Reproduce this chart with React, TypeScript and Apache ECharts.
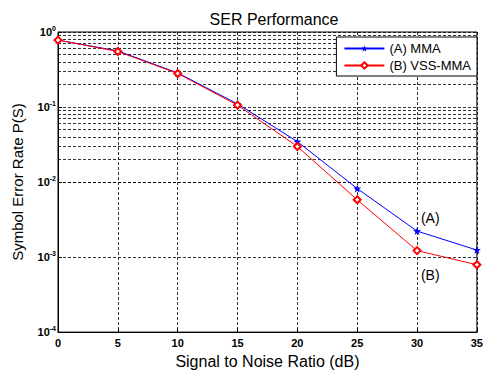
import React, { useEffect, useRef } from "react";
import * as echarts from "echarts";

const snr = [0, 5, 10, 15, 20, 25, 30, 35];
const serMMA = [0.78, 0.56, 0.285, 0.11, 0.0346, 0.0082, 0.00222, 0.00124];
const serVSS = [0.78, 0.55, 0.28, 0.106, 0.0298, 0.0058, 0.00122, 0.00079];
const xTicks = [0, 5, 10, 15, 20, 25, 30, 35];
const yDecades = [1e-4, 1e-3, 1e-2, 1e-1, 1];
const minorMultipliers = [2, 3, 4, 5, 6, 7, 8, 9];
const annotations = [
  { name: "(A)", x: 31.1, y: 0.0033 },
  { name: "(B)", x: 31.1, y: 0.00058 },
];

const STAR =
  "path://M0,-10 L2.35,-3.24 L9.51,-3.09 L3.8,1.24 L5.88,8.09 L0,4 L-5.88,8.09 L-3.8,1.24 L-9.51,-3.09 L-2.35,-3.24 Z";

export default function App() {
  const ref = useRef<HTMLDivElement>(null);
  useEffect(() => {
    if (!ref.current) return;
    const chart = echarts.init(ref.current, null, { renderer: "svg" });
    const minorValues: number[] = [];
    yDecades.slice(0, -1).forEach((d) => minorMultipliers.forEach((m) => minorValues.push(d * m)));
    const font = "Liberation Sans";
    chart.setOption({
      animation: false,
      backgroundColor: "#fff",
      title: {
        text: "SER Performance",
        left: 269,
        textAlign: "center",
        top: 6,
        textStyle: { fontFamily: font, fontSize: 16, fontWeight: "normal", color: "#000" },
      },
      grid: {
        left: 58,
        right: 5,
        top: 32,
        bottom: 36,
        show: true,
        borderColor: "#000",
        borderWidth: 1,
        backgroundColor: "transparent",
      },
      legend: {
        orient: "vertical",
        right: 9,
        top: 37,
        backgroundColor: "#fff",
        borderColor: "#000",
        borderWidth: 1,
        borderRadius: 0,
        padding: [5, 6, 4, 7],
        itemWidth: 40,
        itemHeight: 8,
        itemGap: 4,
        textStyle: { fontFamily: font, fontSize: 13, color: "#000" },
        data: ["(A) MMA", "(B) VSS-MMA"],
      },
      xAxis: {
        type: "value",
        min: 0,
        max: 35,
        interval: 5,
        name: "Signal to Noise Ratio (dB)",
        nameLocation: "middle",
        nameGap: 18,
        nameTextStyle: { fontFamily: font, fontSize: 16, color: "#000" },
        axisLine: { lineStyle: { color: "#000" } },
        axisTick: { inside: true, length: 4, lineStyle: { color: "#000" } },
        axisLabel: {
          fontFamily: font,
          fontSize: 11,
          fontWeight: "bold",
          color: "#000",
          margin: 5,
          customValues: xTicks,
        },
        splitLine: { show: true, lineStyle: { color: "#000", type: [3, 2], width: 0.8 } },
      },
      yAxis: {
        type: "log",
        logBase: 10,
        min: 1e-4,
        max: 1,
        name: "Symbol Error Rate P(S)",
        nameLocation: "middle",
        nameGap: 33,
        nameTextStyle: { fontFamily: font, fontSize: 15, color: "#000" },
        axisLine: { show: true, lineStyle: { color: "#000" } },
        axisTick: { inside: true, length: 4, lineStyle: { color: "#000" } },
        axisLabel: {
          margin: 2,
          formatter: (v: number) => `{b|10}{s|${Math.round(Math.log10(v))}}`,
          rich: {
            b: { fontFamily: font, fontSize: 11, fontWeight: "bold", color: "#000" },
            s: {
              fontFamily: font,
              fontSize: 7,
              fontWeight: "bold",
              color: "#000",
              verticalAlign: "top",
              padding: [0, 0, 8, 0],
            },
          },
        },
        splitLine: { show: true, lineStyle: { color: "#000", type: [3, 2], width: 0.8 } },
      },
      series: [
        {
          name: "(A) MMA",
          type: "line",
          data: snr.map((x, i) => [x, serMMA[i]]),
          symbol: STAR,
          symbolSize: 8,
          itemStyle: { color: "#0000ff", borderWidth: 0 },
          lineStyle: { color: "#0000ff", width: 1 },
          z: 3,
          markLine: {
            silent: true,
            symbol: ["none", "none"],
            label: { show: false },
            lineStyle: { color: "#000", type: [3, 2], width: 0.8 },
            data: minorValues.map((v) => ({ yAxis: v })),
            z: 1,
          },
          markPoint: {
            symbol: "circle",
            symbolSize: 0,
            label: {
              show: true,
              formatter: (p: any) => p.name,
              fontFamily: font,
              fontSize: 14,
              color: "#000",
              position: "inside",
            },
            data: annotations.map((a) => ({ name: a.name, coord: [a.x, a.y] })),
          },
        },
        {
          name: "(B) VSS-MMA",
          type: "line",
          data: snr.map((x, i) => [x, serVSS[i]]),
          symbol: "emptyDiamond",
          symbolSize: 7,
          itemStyle: { color: "#ff0000", borderWidth: 0.8 },
          lineStyle: { color: "#ff0000", width: 1 },
          z: 4,
        },
      ],
    });
    return () => chart.dispose();
  }, []);
  return (
    <div
      ref={ref}
      style={{ position: "fixed", left: 0, top: 0, width: 486, height: 374 }}
    />
  );
}
